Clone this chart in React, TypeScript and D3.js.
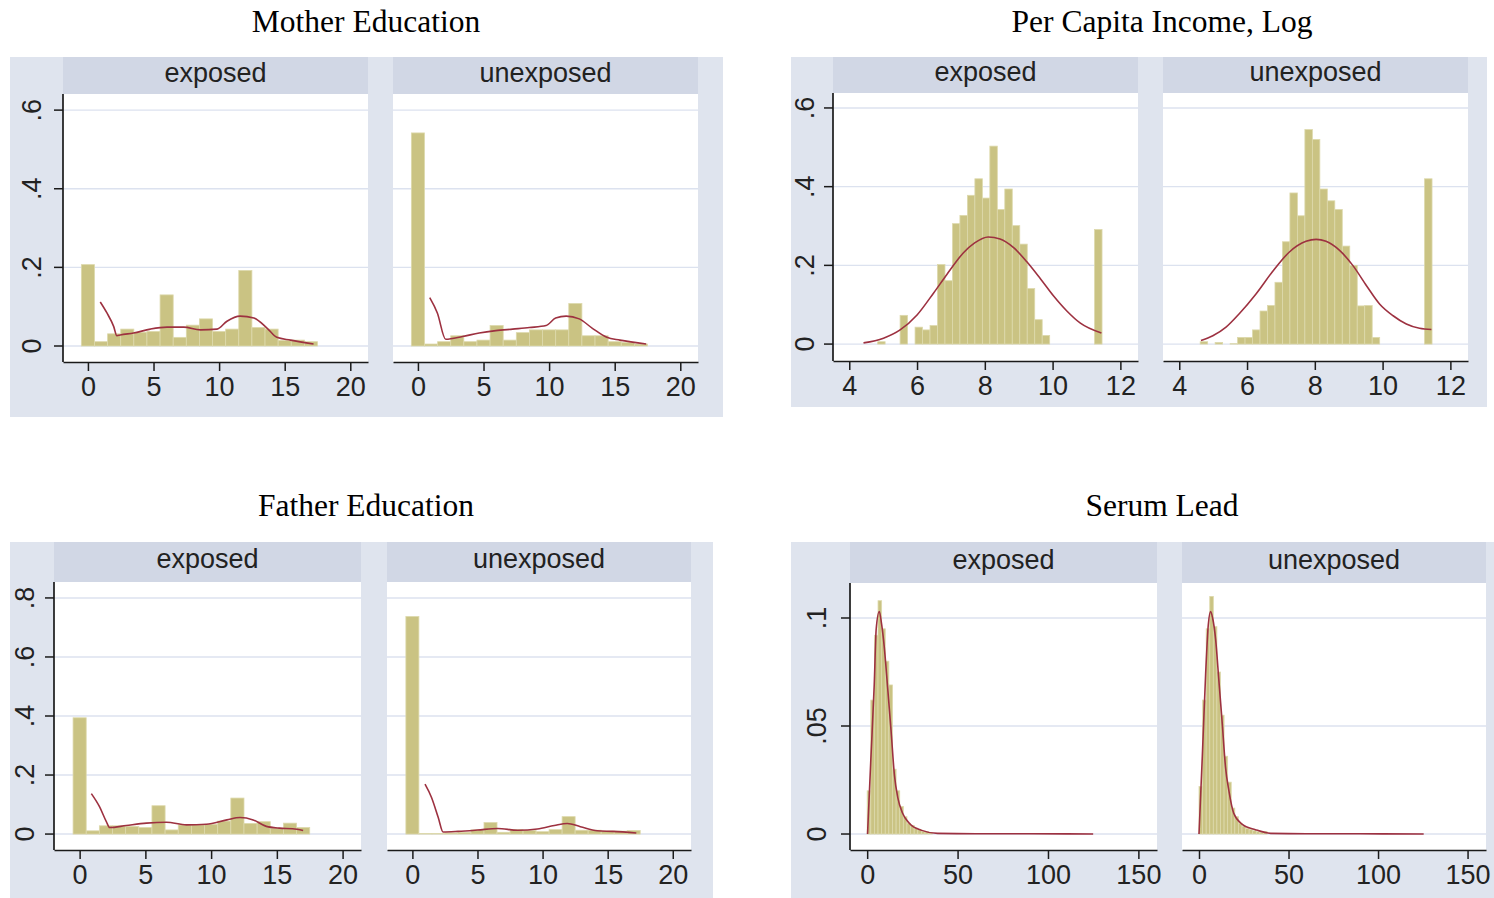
import { useEffect, useRef } from 'react'
import * as d3 from 'd3'

// ---- values ----

// schooling years: one bar per whole year
const eduYears = [0, 1, 2, 3, 4, 5, 6, 7, 8, 9, 10, 11, 12, 13, 14, 15, 16, 17]
const eduXTicks = [0, 5, 10, 15, 20]

const motherExposed = [0.207, 0.011, 0.031, 0.043, 0.035, 0.037, 0.13, 0.022, 0.053, 0.069, 0.037, 0.043, 0.192, 0.047, 0.043, 0.014, 0.015, 0.011]
const motherUnexposed = [0.542, 0.005, 0.011, 0.026, 0.011, 0.015, 0.052, 0.015, 0.034, 0.041, 0.041, 0.041, 0.108, 0.026, 0.026, 0.011, 0.009, 0.005]
const motherExposedCurve: [number, number][] = [
  [0.94, 0.112], [1.45, 0.084], [1.96, 0.05], [2.21, 0.026], [2.46, 0.028], [3.48, 0.033],
  [4.76, 0.043], [6.03, 0.048], [7.3, 0.048], [8.57, 0.041], [9.84, 0.043], [10.6, 0.063],
  [11.6, 0.076], [12.65, 0.071], [13.67, 0.045], [14.4, 0.022], [15.45, 0.015], [17.2, 0.005],
]
const motherUnexposedCurve: [number, number][] = [
  [0.9, 0.123], [1.48, 0.084], [2.12, 0.017], [3.39, 0.024], [4.67, 0.033], [5.94, 0.039],
  [7.22, 0.043], [8.5, 0.047], [9.77, 0.052], [10.5, 0.071], [11.3, 0.076], [12.3, 0.069],
  [13.3, 0.045], [14.4, 0.022], [15.4, 0.015], [17.4, 0.005],
]

const fatherExposed = [0.394, 0.011, 0.028, 0.028, 0.026, 0.022, 0.096, 0.014, 0.031, 0.031, 0.033, 0.044, 0.122, 0.036, 0.042, 0.02, 0.037, 0.022]
const fatherUnexposed = [0.737, 0.002, 0.002, 0.004, 0.006, 0.014, 0.039, 0.006, 0.015, 0.012, 0.008, 0.015, 0.059, 0.013, 0.013, 0.01, 0.01, 0.012]
const fatherExposedCurve: [number, number][] = [
  [0.89, 0.137], [1.52, 0.092], [2.03, 0.042], [2.28, 0.022], [3.55, 0.029], [5.08, 0.037],
  [6.6, 0.04], [8.12, 0.031], [9.64, 0.033], [11.2, 0.048], [12.2, 0.056], [13.2, 0.048],
  [14.2, 0.026], [15.2, 0.02], [16.2, 0.018], [17.0, 0.012],
]
const fatherUnexposedCurve: [number, number][] = [
  [0.97, 0.169], [1.47, 0.124], [1.98, 0.057], [2.36, 0.007], [3.5, 0.009], [5.0, 0.0135],
  [6.55, 0.019], [8.1, 0.013], [9.6, 0.017], [10.9, 0.029], [11.9, 0.036], [12.9, 0.025],
  [14.2, 0.011], [15.4, 0.009], [17.2, 0.0035],
]

// log income: 31 bins
const incomeBinStart = 4.617
const incomeBinWidth = 0.2207
const incomeXTicks = [4, 6, 8, 10, 12]
const incomeExposed = [0, 0.006, 0, 0, 0.073, 0, 0.043, 0.036, 0.047, 0.202, 0.161, 0.306, 0.327, 0.378, 0.42, 0.371, 0.503, 0.342, 0.394, 0.301, 0.254, 0.141, 0.062, 0.022, 0, 0, 0, 0, 0, 0, 0.291]
const incomeUnexposed = [0.006, 0, 0.004, 0, 0.001, 0.017, 0.017, 0.036, 0.084, 0.098, 0.157, 0.26, 0.384, 0.326, 0.545, 0.52, 0.394, 0.364, 0.342, 0.249, 0.2, 0.097, 0.098, 0.017, 0, 0, 0, 0, 0, 0, 0.42]
const incomeExposedCurve: [number, number][] = [
  [4.42, 0.003], [5.01, 0.015], [5.5, 0.036], [6.0, 0.074], [6.49, 0.13], [6.88, 0.177],
  [7.37, 0.232], [7.7, 0.257], [8.1, 0.272], [8.45, 0.267], [8.85, 0.245], [9.24, 0.209],
  [9.64, 0.166], [10.03, 0.122], [10.42, 0.084], [10.82, 0.053], [11.44, 0.028],
]
const incomeUnexposedCurve: [number, number][] = [
  [4.64, 0.009], [4.99, 0.021], [5.38, 0.043], [5.77, 0.077], [6.27, 0.128], [6.76, 0.185],
  [7.25, 0.234], [7.74, 0.261], [8.04, 0.266], [8.33, 0.261], [8.73, 0.238], [9.12, 0.2],
  [9.52, 0.149], [9.91, 0.102], [10.31, 0.072], [10.7, 0.051], [11.09, 0.04], [11.44, 0.037],
]

// serum lead: bins of width 2 from 0
const serumBinStart = 0
const serumBinWidth = 2
const serumXTicks = [0, 50, 100, 150]
const serumExposed = [0.02, 0.062, 0.092, 0.108, 0.095, 0.08, 0.069, 0.03, 0.02, 0.0127, 0.008, 0.005, 0.004, 0.0027, 0.002, 0.0011, 0.001, 0.0005]
const serumUnexposed = [0.022, 0.062, 0.095, 0.11, 0.096, 0.075, 0.055, 0.036, 0.024, 0.012, 0.008, 0.005, 0.0035, 0.0025, 0.002, 0.0015, 0.001, 0.0008, 0.0012]
const serumExposedCurve: [number, number][] = [
  [0.2, 0], [2, 0.034], [3.9, 0.069], [5, 0.095], [6.7, 0.103], [8, 0.097], [9.4, 0.087],
  [11.3, 0.068], [13.2, 0.048], [15.1, 0.027], [16.9, 0.017], [19.6, 0.0096], [23.3, 0.005],
  [29.7, 0.0018], [39, 0.0003], [60, 0.0001], [90, 0.0001], [125, 0],
]
const serumUnexposedCurve: [number, number][] = [
  [0, 0], [1.85, 0.036], [3.7, 0.074], [5.2, 0.097], [6.5, 0.103], [7.6, 0.1], [9.3, 0.09],
  [11.1, 0.071], [13, 0.051], [14.8, 0.031], [16.7, 0.02], [19.4, 0.0096], [24, 0.0046],
  [31.5, 0.002], [40, 0.0003], [60, 0.0001], [90, 0.0001], [125.5, 0],
]

const densTicks = [0, 0.2, 0.4, 0.6]
const densTickLabels = ['0', '.2', '.4', '.6']
const fatherYTicks = [0, 0.2, 0.4, 0.6, 0.8]
const fatherYTickLabels = ['0', '.2', '.4', '.6', '.8']
const serumYTicks = [0, 0.05, 0.1]
const serumYTickLabels = ['0', '.05', '.1']

// ---- styling ----
const BG = '#dfe4ee'
const STRIP = '#d1d7e5'
const GRID = '#dce2ef'
const BAR = '#cac383'
const BAR_EDGE = '#ddd9ac'
const LINE = '#9d3140'
const AXIS = '#1a1a1a'
const SANS = '"Liberation Sans", Arial, sans-serif'
const SERIF = '"Liberation Serif", "Times New Roman", serif'

interface Bar { x0: number; x1: number; v: number }

interface PanelSpec {
  label: string
  left: number
  right: number
  bars: Bar[]
  curve: [number, number][]
}

interface ChartSpec {
  title: string
  titleX: number
  titleY: number
  bg: { x: number; y: number; w: number; h: number }
  top: number
  plotTop: number
  plotBottom: number
  xDomain: [number, number]
  yDomain: [number, number]
  xTicks: number[]
  yTicks: number[]
  yTickLabels: string[]
  yLabelX: number
  panels: PanelSpec[]
}

const discreteBars = (vals: number[]): Bar[] =>
  eduYears.map((yr, i) => ({ x0: yr - 0.5, x1: yr + 0.5, v: vals[i] }))

const binnedBars = (vals: number[], start: number, width: number): Bar[] =>
  vals.map((v, i) => ({ x0: start + i * width, x1: start + (i + 1) * width, v }))

const charts: ChartSpec[] = [
  {
    title: 'Mother Education',
    titleX: 366,
    titleY: 32,
    bg: { x: 10, y: 57, w: 713, h: 360 },
    top: 57,
    plotTop: 94,
    plotBottom: 362,
    xDomain: [-1.9, 21.35],
    yDomain: [-0.0407, 0.641],
    xTicks: eduXTicks,
    yTicks: densTicks,
    yTickLabels: densTickLabels,
    yLabelX: 41,
    panels: [
      { label: 'exposed', left: 63, right: 368, bars: discreteBars(motherExposed), curve: motherExposedCurve },
      { label: 'unexposed', left: 393, right: 698, bars: discreteBars(motherUnexposed), curve: motherUnexposedCurve },
    ],
  },
  {
    title: 'Per Capita Income, Log',
    titleX: 1162,
    titleY: 32,
    bg: { x: 791, y: 57, w: 696, h: 350 },
    top: 57,
    plotTop: 93,
    plotBottom: 361,
    xDomain: [3.52, 12.52],
    yDomain: [-0.043, 0.638],
    xTicks: incomeXTicks,
    yTicks: densTicks,
    yTickLabels: densTickLabels,
    yLabelX: 814,
    panels: [
      { label: 'exposed', left: 833, right: 1138, bars: binnedBars(incomeExposed, incomeBinStart, incomeBinWidth), curve: incomeExposedCurve },
      { label: 'unexposed', left: 1163, right: 1468, bars: binnedBars(incomeUnexposed, incomeBinStart, incomeBinWidth), curve: incomeUnexposedCurve },
    ],
  },
  {
    title: 'Father Education',
    titleX: 366,
    titleY: 516,
    bg: { x: 10, y: 542, w: 703, h: 356 },
    top: 542,
    plotTop: 582,
    plotBottom: 850,
    xDomain: [-1.95, 21.4],
    yDomain: [-0.054, 0.854],
    xTicks: eduXTicks,
    yTicks: fatherYTicks,
    yTickLabels: fatherYTickLabels,
    yLabelX: 34,
    panels: [
      { label: 'exposed', left: 54, right: 361, bars: discreteBars(fatherExposed), curve: fatherExposedCurve },
      { label: 'unexposed', left: 387, right: 691, bars: discreteBars(fatherUnexposed), curve: fatherUnexposedCurve },
    ],
  },
  {
    title: 'Serum Lead',
    titleX: 1162,
    titleY: 516,
    bg: { x: 791, y: 542, w: 703, h: 356 },
    top: 542,
    plotTop: 583,
    plotBottom: 850,
    xDomain: [-9.5, 160.3],
    yDomain: [-0.0074, 0.1162],
    xTicks: serumXTicks,
    yTicks: serumYTicks,
    yTickLabels: serumYTickLabels,
    yLabelX: 826,
    panels: [
      { label: 'exposed', left: 850, right: 1157, bars: binnedBars(serumExposed, serumBinStart, serumBinWidth), curve: serumExposedCurve },
      { label: 'unexposed', left: 1182, right: 1486, bars: binnedBars(serumUnexposed, serumBinStart, serumBinWidth), curve: serumUnexposedCurve },
    ],
  },
]

function drawChart(root: d3.Selection<SVGSVGElement, unknown, null, undefined>, c: ChartSpec) {
  const g = root.append('g')

  g.append('rect')
    .attr('x', c.bg.x)
    .attr('y', c.bg.y)
    .attr('width', c.bg.w)
    .attr('height', c.bg.h)
    .attr('fill', BG)

  root
    .append('text')
    .attr('x', c.titleX)
    .attr('y', c.titleY)
    .attr('text-anchor', 'middle')
    .attr('font-family', SERIF)
    .attr('font-size', '31.5px')
    .attr('fill', '#000')
    .text(c.title)

  const y = d3.scaleLinear().domain(c.yDomain).range([c.plotBottom, c.plotTop])

  c.panels.forEach((p, pi) => {
    const x = d3.scaleLinear().domain(c.xDomain).range([p.left, p.right])
    const pg = g.append('g')

    // header strip
    pg.append('rect')
      .attr('x', p.left)
      .attr('y', c.top)
      .attr('width', p.right - p.left)
      .attr('height', c.plotTop - c.top)
      .attr('fill', STRIP)

    pg.append('text')
      .attr('x', (p.left + p.right) / 2)
      .attr('y', (c.top + c.plotTop) / 2 + 6)
      .attr('text-anchor', 'middle')
      .attr('font-family', SANS)
      .attr('font-size', '27px')
      .attr('fill', '#222')
      .text(p.label)

    // plot region
    pg.append('rect')
      .attr('x', p.left)
      .attr('y', c.plotTop)
      .attr('width', p.right - p.left)
      .attr('height', c.plotBottom - c.plotTop)
      .attr('fill', '#fff')

    // grid lines
    pg.append('g')
      .selectAll('line')
      .data(c.yTicks)
      .join('line')
      .attr('x1', p.left)
      .attr('x2', p.right)
      .attr('y1', (d) => y(d))
      .attr('y2', (d) => y(d))
      .attr('stroke', GRID)
      .attr('stroke-width', 1.4)

    // histogram bars
    pg.append('g')
      .selectAll('rect')
      .data(p.bars.filter((b) => b.v > 0))
      .join('rect')
      .attr('x', (b) => x(b.x0))
      .attr('width', (b) => x(b.x1) - x(b.x0))
      .attr('y', (b) => y(b.v))
      .attr('height', (b) => y(0) - y(b.v))
      .attr('fill', BAR)
      .attr('stroke', BAR_EDGE)
      .attr('stroke-width', 0.8)

    // density overlay
    const line = d3
      .line<[number, number]>()
      .x((d) => x(d[0]))
      .y((d) => y(d[1]))
      .curve(d3.curveMonotoneX)

    pg.append('path')
      .datum(p.curve)
      .attr('d', line)
      .attr('fill', 'none')
      .attr('stroke', LINE)
      .attr('stroke-width', 1.6)

    // x axis
    const xAxis = pg
      .append('g')
      .attr('transform', `translate(0,${c.plotBottom})`)
      .call(
        d3
          .axisBottom(x)
          .tickValues(c.xTicks)
          .tickSize(9)
          .tickSizeOuter(0)
          .tickPadding(6)
          .tickFormat(d3.format('d'))
      )
    xAxis.select('.domain').attr('stroke', AXIS).attr('stroke-width', 1.7)
    xAxis.selectAll('.tick line').attr('stroke', AXIS).attr('stroke-width', 1.5)
    xAxis
      .selectAll('.tick text')
      .attr('font-family', SANS)
      .attr('font-size', '27px')
      .attr('fill', '#222')

    // y axis on the first panel only
    if (pi === 0) {
      const ya = pg.append('g')
      ya.append('line')
        .attr('x1', p.left)
        .attr('x2', p.left)
        .attr('y1', c.plotTop)
        .attr('y2', c.plotBottom)
        .attr('stroke', AXIS)
        .attr('stroke-width', 1.7)

      ya.selectAll('.ytick')
        .data(c.yTicks)
        .join('line')
        .attr('class', 'ytick')
        .attr('x1', p.left - 9)
        .attr('x2', p.left)
        .attr('y1', (d) => y(d))
        .attr('y2', (d) => y(d))
        .attr('stroke', AXIS)
        .attr('stroke-width', 1.5)

      ya.selectAll('.ylabel')
        .data(c.yTicks)
        .join('text')
        .attr('class', 'ylabel')
        .attr('transform', (d) => `translate(${c.yLabelX},${y(d)}) rotate(-90)`)
        .attr('text-anchor', 'middle')
        .attr('font-family', SANS)
        .attr('font-size', '27px')
        .attr('fill', '#222')
        .text((_, i) => c.yTickLabels[i])
    }
  })
}

export default function App() {
  const svgRef = useRef<SVGSVGElement>(null)

  useEffect(() => {
    if (!svgRef.current) return
    const svg = d3.select(svgRef.current)
    svg.selectAll('*').remove()

    svg.append('rect').attr('width', 1494).attr('height', 898).attr('fill', '#fff')
    charts.forEach((c) => drawChart(svg, c))
  }, [])

  return (
    <svg
      ref={svgRef}
      width={1494}
      height={898}
      style={{ position: 'absolute', left: 0, top: 0, display: 'block' }}
    />
  )
}
